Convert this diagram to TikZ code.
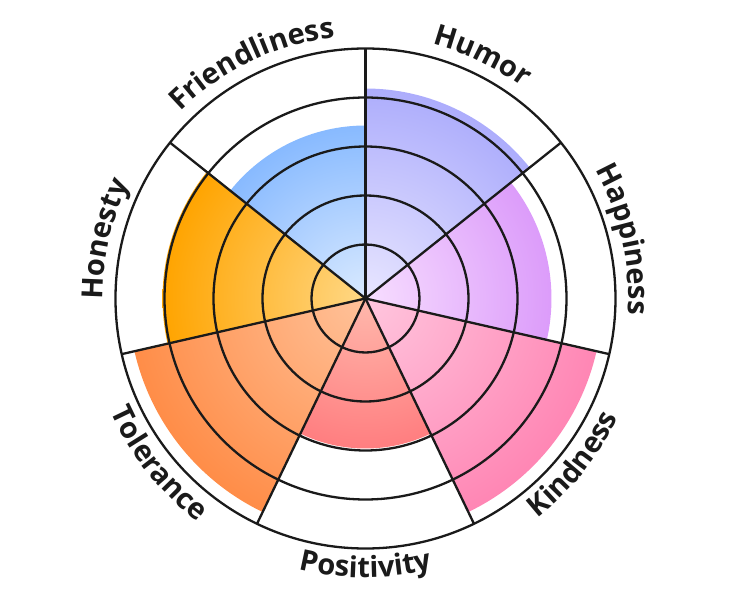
\documentclass[tikz,border=0pt]{standalone}
\usepackage{fontspec}
\usetikzlibrary{decorations.text}
\newfontfamily\labelfont{Open Sans}
\newcommand{\lblfont}{\labelfont\bfseries\fontsize{29}{33}\selectfont}

\definecolor{ink}{HTML}{1A1A1A}
\definecolor{humorin}{HTML}{E8E6FF}\definecolor{humorout}{HTML}{ADADFC}
\definecolor{happyin}{HTML}{F7DEFF}\definecolor{happyout}{HTML}{DC9CFA}
\definecolor{kindin}{HTML}{FFC6DE}\definecolor{kindout}{HTML}{FF86B4}
\definecolor{posin}{HTML}{FFB8AC}\definecolor{posout}{HTML}{FF7E80}
\definecolor{tolin}{HTML}{FFC29A}\definecolor{tolout}{HTML}{FF8D48}
\definecolor{honin}{HTML}{FFD886}\definecolor{honout}{HTML}{FFA400}
\definecolor{friin}{HTML}{DAEAFF}\definecolor{friout}{HTML}{88BAFF}

\tikzset{
  grid/.style={draw=ink, line width=2.3pt},
}

\NewDocumentCommand{\petal}{mmmm}{%
\begin{scope}
\clip (0,0) -- ({90-#1*360/7}:#2) arc[start angle={90-#1*360/7}, delta angle={-360/7}, radius=#2] -- cycle;
\shade[inner color=#3, outer color=#4] (0,0) circle[radius=#2];
\end{scope}%
}
\NewDocumentCommand{\toplabel}{mm}{%
\pgfmathsetmacro{\lblangle}{90-(#1+0.5)*360/7}%
\path[decorate, decoration={text along path, text align=center, text color=ink, text={|\lblfont|#2}}]
  ({\lblangle+45}:263) arc[start angle={\lblangle+45}, end angle={\lblangle-45}, radius=263];%
}
\NewDocumentCommand{\botlabel}{mm}{%
\pgfmathsetmacro{\lblangle}{90-(#1+0.5)*360/7}%
\path[decorate, decoration={text along path, text align=center, text color=ink, text={|\lblfont|#2}}]
  ({\lblangle-45}:279) arc[start angle={\lblangle-45}, end angle={\lblangle+45}, radius=279];%
}

\begin{document}
\begin{tikzpicture}[x=1pt, y=1pt]
    \useasboundingbox (-365.5,-301.5) rectangle (366.5,298.5);
    \petal{0}{210}{humorin}{humorout}
    \petal{1}{186}{happyin}{happyout}
    \petal{2}{237}{kindin}{kindout}
    \petal{3}{150}{posin}{posout}
    \petal{4}{237}{tolin}{tolout}
    \petal{5}{203}{honin}{honout}
    \petal{6}{173}{friin}{friout}

    % Rings and spokes.
    \coordinate (c) at (0,0);
    \foreach \r in {54,103,152,201,250}
        \draw[grid] (c) circle[radius=\r];
    \foreach \i in {0,...,6}
        \draw[grid] (c) -- ({90-\i*360/7}:250);

    % Labels.
    \toplabel{0}{Humor}
    \toplabel{1}{Happiness}
    \botlabel{2}{Kindness}
    \botlabel{3}{Positivity}
    \botlabel{4}{Tolerance}
    \toplabel{5}{Honesty}
    \toplabel{6}{Friendliness}
\end{tikzpicture}
\end{document}
